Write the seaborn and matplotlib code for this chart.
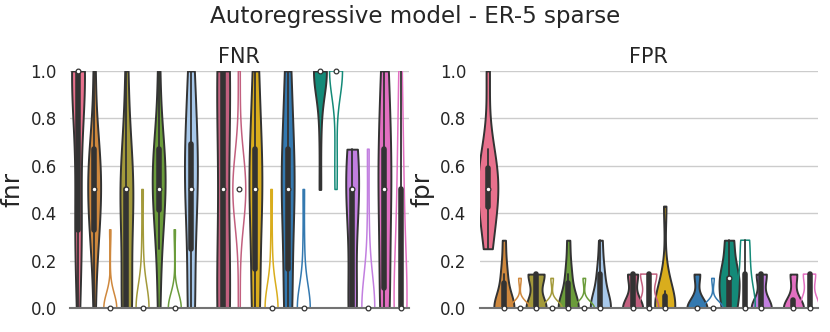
import numpy as np
import pandas as pd
import matplotlib
matplotlib.use("Agg")
import matplotlib.pyplot as plt
import seaborn as sns

# slot names: 11 methods, each (except the first) drawn twice: filled + outline
slots = ["m1_f",
         "m2_f", "m2_u", "m3_f", "m3_u", "m4_f", "m4_u", "m5_f", "m5_u",
         "m6_f", "m6_u", "m7_f", "m7_u", "m8_f", "m8_u", "m9_f", "m9_u",
         "m10_f", "m10_u", "m11_f", "m11_u"]

method_colors = ["#e8718d", "#cf883d", "#a39a3b", "#6b9c3b", "#a7c8ea", "#c2607f",
                 "#d9ad1d", "#3479b0", "#148a78", "#c27fe0", "#e26fc1"]

fnr_values = [
    [0, 0.33, 0.33, 0.33, 0.67, 1, 1, 1, 1, 1, 1, 1],
    [0, 0.25, 0.33, 0.33, 0.5, 0.5, 0.5, 0.5, 0.67, 0.67, 0.67, 1],
    [0, 0, 0, 0, 0, 0, 0, 0, 0, 0, 0.33],
    [0, 0, 0, 0, 0.33, 0.5, 0.5, 0.5, 0.5, 0.67, 1],
    [0, 0, 0, 0, 0, 0, 0, 0, 0, 0.25, 0.5],
    [0, 0.25, 0.33, 0.5, 0.5, 0.5, 0.5, 0.67, 0.67, 0.67, 1],
    [0, 0, 0, 0, 0, 0, 0, 0, 0, 0, 0.33],
    [0, 0, 0, 0.33, 0.5, 0.5, 0.5, 0.67, 0.67, 0.75, 1, 1],
    [0, 0, 0, 0, 0, 0, 0, 0],
    [0, 0, 0, 0.5, 1, 1, 1],
    [0, 0.5, 0.5, 0.5, 0.5, 0.5, 0.5, 0.5, 1],
    [0, 0, 0, 0.33, 0.5, 0.5, 0.5, 0.67, 0.67, 1, 1],
    [0, 0, 0, 0, 0, 0, 0, 0, 0, 0.25, 0.5],
    [0, 0, 0, 0.33, 0.5, 0.5, 0.5, 0.67, 0.67, 1, 1],
    [0, 0, 0, 0, 0, 0, 0, 0, 0, 0.25, 0.5],
    [0.5, 0.75, 1, 1, 1, 1, 1, 1, 1, 1],
    [0.5, 0.67, 1, 1, 1, 1, 1, 1, 1, 1],
    [0, 0, 0, 0.33, 0.5, 0.5, 0.5, 0.67, 0.67],
    [0, 0, 0, 0, 0, 0, 0, 0, 0.33, 0.67],
    [0, 0, 0, 0.33, 0.5, 0.5, 0.67, 0.67, 1, 1],
    [0, 0, 0, 0, 0, 0.33, 0.5, 0.67, 1],
]

fpr_values = [
    [0.25, 0.33, 0.4, 0.5, 0.5, 0.5, 0.57, 0.6, 0.67, 1.0],
    [0, 0, 0, 0, 0, 0, 0, 0.143, 0.143, 0.286],
    [0, 0, 0, 0, 0, 0, 0, 0, 0.125],
    [0, 0, 0, 0, 0, 0.143, 0.143, 0.143, 0.143],
    [0, 0, 0, 0, 0, 0, 0, 0, 0.125],
    [0, 0, 0, 0, 0, 0, 0, 0.143, 0.143, 0.286],
    [0, 0, 0, 0, 0, 0, 0, 0, 0.125],
    [0, 0, 0, 0, 0, 0, 0.143, 0.143, 0.286],
    [0, 0, 0, 0, 0, 0, 0, 0],
    [0, 0, 0, 0, 0, 0, 0.143, 0.143, 0.143],
    [0, 0, 0, 0, 0, 0.143, 0.143, 0.143, 0.143],
    [0, 0, 0, 0, 0, 0, 0, 0.07, 0.143, 0.43],
    [0, 0, 0, 0, 0, 0, 0, 0],
    [0, 0, 0, 0, 0, 0, 0, 0.143, 0.143],
    [0, 0, 0, 0, 0, 0, 0, 0, 0.125],
    [0, 0, 0, 0.125, 0.125, 0.125, 0.125, 0.286, 0.286],
    [0, 0, 0, 0, 0, 0.143, 0.143, 0.286, 0.286],
    [0, 0, 0, 0, 0, 0, 0.143, 0.143, 0.143],
    [0, 0, 0, 0, 0, 0, 0, 0],
    [0, 0, 0, 0, 0, 0, 0.143, 0.143],
    [0, 0, 0, 0, 0, 0.143, 0.143, 0.143],
]


def slot_color(name):
    idx = int(name.split("_")[0][1:]) - 1
    return method_colors[idx]


def to_frame(values):
    rows = []
    for name, vals in zip(slots, values):
        for v in vals:
            rows.append({"slot": name, "value": v})
    return pd.DataFrame(rows)


def draw_panel(ax, values, ylabel, title, width):
    df = to_frame(values)
    palette = {s: slot_color(s) for s in slots}
    filled = df[df["slot"].str.endswith("_f")]
    hollow = df[df["slot"].str.endswith("_u")]
    box = dict(box_width=4, whis_width=1.3, marker="o")

    sns.violinplot(data=filled, x="slot", y="value", hue="slot", order=slots,
                   palette=palette, saturation=1, cut=0, linewidth=1.4,
                   width=width, linecolor=".2", inner_kws=box, legend=False, ax=ax)
    sns.violinplot(data=hollow, x="slot", y="value", hue="slot", order=slots,
                   palette=palette, saturation=1, cut=0, linewidth=1.1,
                   width=width, fill=False, inner_kws=dict(box, color=".2"),
                   legend=False, ax=ax)

    # median dots: white with a dark rim, drawn over the axis line
    for line in ax.lines:
        if line.get_marker() == "o":
            line.set_markerfacecolor("white")
            line.set_markeredgecolor(".2")
            line.set_markersize(3.4)
            line.set_markeredgewidth(0.9)
            line.set_clip_on(False)
            line.set_zorder(3)

    ax.set_ylim(0, 1)
    ax.set_xlim(-0.5, len(slots) - 0.5)
    ax.set_xticks([])
    ax.set_xlabel("")
    ax.set_ylabel(ylabel, fontsize=18, labelpad=4)
    ax.set_title(title, fontsize=15)
    ax.tick_params(axis="y", labelsize=12)
    sns.despine(ax=ax, left=True)
    ax.spines["bottom"].set_color("0.45")
    ax.spines["bottom"].set_linewidth(1.5)


sns.set_theme(style="whitegrid")
fig = plt.figure(figsize=(8.3, 3.32), dpi=100)
ax1 = fig.add_axes([0.0843, 0.0723, 0.408, 0.714])
ax2 = fig.add_axes([0.578, 0.0723, 0.407, 0.714])

draw_panel(ax1, fnr_values, "fnr", "FNR", 0.8)
draw_panel(ax2, fpr_values, "fpr", "FPR", 1.25)

fig.suptitle("Autoregressive model - ER-5 sparse", fontsize=16.6, y=0.985)
fig.savefig("out.png", dpi=100)
